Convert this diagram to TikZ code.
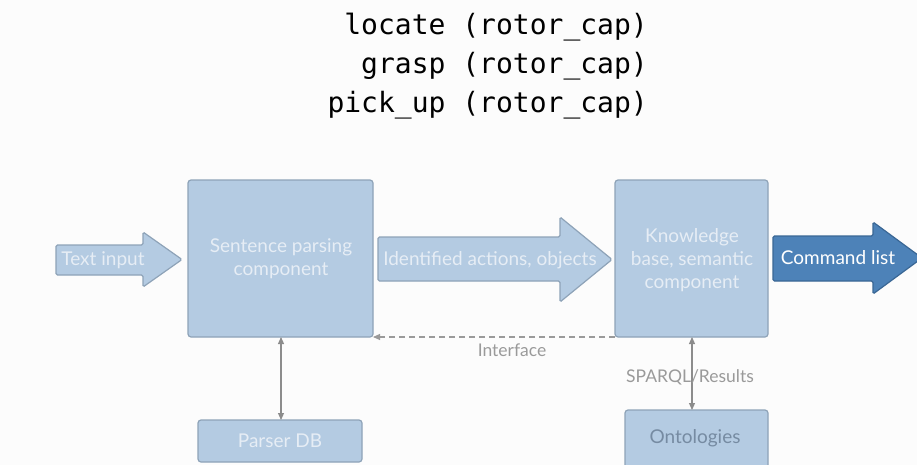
\documentclass[tikz,border=0pt]{standalone}
\usepackage{fontspec}
\setmainfont{Lato}
\setmonofont{DejaVu Sans Mono}
\usetikzlibrary{arrows.meta}
\definecolor{boxfill}{HTML}{B4CBE2}
\definecolor{boxline}{HTML}{8EA3B8}
\definecolor{boxtext}{HTML}{E6EDF5}
\definecolor{darkfill}{HTML}{4D82B8}
\definecolor{darkline}{HTML}{3A6795}
\definecolor{linkgray}{HTML}{8C8C8C}
\definecolor{labelgray}{HTML}{9A9A9A}
\definecolor{ontotext}{HTML}{768BA2}
\definecolor{paper}{HTML}{FCFCFC}
\tikzset{
  x=1pt, y=-1pt,
  block/.style={draw=boxline, line width=1.2pt, fill=boxfill, rounded corners=3pt},
  blockarrow/.style={draw=boxline, line width=1.2pt, fill=boxfill, rounded corners=1.5pt},
  cmdarrow/.style={draw=darkline, line width=1.2pt, fill=darkfill, rounded corners=1.5pt},
  inlabel/.style={text=boxtext, font=\fontsize{19}{23}\selectfont, align=center, inner sep=0pt},
  sidelabel/.style={text=labelgray, font=\fontsize{17.5}{21}\selectfont, inner sep=0pt},
  link/.style={draw=linkgray, line width=1.1pt, {Triangle[length=7pt,width=6pt]}-{Triangle[length=7pt,width=6pt]}},
  code/.style={font=\ttfamily\fontsize{28}{33}\selectfont, inner sep=0pt, anchor=base east},
}
\begin{document}
\begin{tikzpicture}
\fill[paper] (0,0) rectangle (917,465);
\useasboundingbox (0,0) rectangle (917,465);

% predicate list
\node[code] (c1) at (648,35) {locate (rotor\_cap)};
\node[code] (c2) at (648,74) {grasp (rotor\_cap)};
\node[code] (c3) at (648,113) {pick\_up (rotor\_cap)};

% main components
\draw[block] (188,180) rectangle (373,337);
\node[inlabel] (parse) at (281,259) {Sentence parsing\\component};
\coordinate (parseR) at (373,337);
\coordinate (parseB) at (281,337);

\draw[block] (615,180) rectangle (768,337);
\node[inlabel] (kb) at (692,260) {Knowledge\\base, semantic\\component};
\coordinate (kbL) at (615,337);
\coordinate (kbB) at (692,337);

\draw[block] (198,420) rectangle (362,462);
\node[inlabel] (pdb) at (280,441) {Parser DB};
\coordinate (pdbT) at (281,420);

\draw[block] (625,410) rectangle (768,475);
\node[inlabel, text=ontotext] (onto) at (695,438) {Ontologies};
\coordinate (ontoT) at (692,410);

% block arrows
\draw[blockarrow] (56,245) -- (143,245) -- (143,232) -- (182,259.5) -- (143,287) -- (143,275) -- (56,275) -- cycle;
\node[inlabel] (tin) at (103,260) {Text input};

\draw[blockarrow] (378,237) -- (560,237) -- (560,217) -- (612,259.5) -- (560,302) -- (560,281) -- (378,281) -- cycle;
\node[inlabel] (ida) at (490,260) {Identified actions, objects};

\draw[cmdarrow] (773,236) -- (873,236) -- (873,222) -- (922,258) -- (873,294) -- (873,281) -- (773,281) -- cycle;
\node[inlabel, text=white] (cmd) at (838,258) {Command list};

% interface and links
\draw[draw=labelgray, line width=1.1pt, dash pattern=on 6pt off 4pt, -{Triangle[length=7pt,width=6pt]}] (kbL) -- (parseR);
\node[sidelabel] (iface) at (512,350) {Interface};

\draw[link] (parseB) -- (pdbT);
\draw[link] (kbB) -- (ontoT);
\node[sidelabel] (sparql) at (690,377) {SPARQL/Results};
\end{tikzpicture}
\end{document}
